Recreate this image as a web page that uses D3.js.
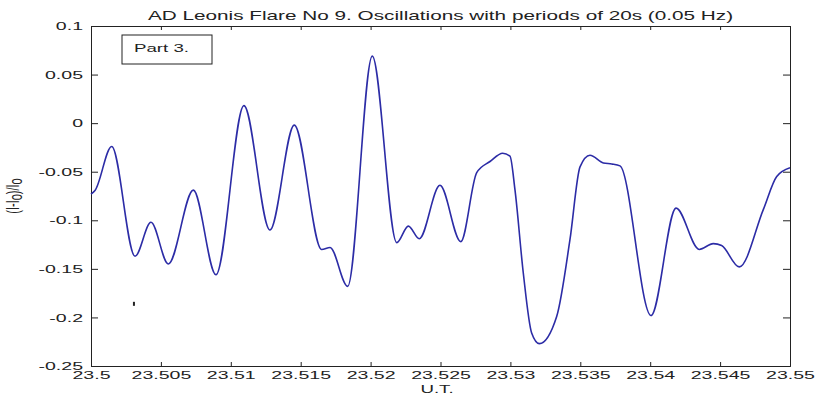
<!DOCTYPE html>
<html lang="en">
<head>
    <meta charset="utf-8">
    <title>AD Leonis Flare No 9</title>
    <script src="https://cdn.jsdelivr.net/npm/d3@7"></script>
    <style type="text/css">
        body { margin: 0; background: #fff; }
        svg text { font-family: "Liberation Sans", Arial, sans-serif; fill: #222; }
    </style>
</head>
<body>
<script type="text/javascript">

    // time (U.T. hours) and relative intensity
    var times = [23.5, 23.5003, 23.50148, 23.50315, 23.50429, 23.50553, 23.50732, 23.50894, 23.51094,
        23.5128, 23.51454, 23.5165, 23.5171, 23.51836, 23.52012, 23.52187, 23.5227,
        23.52348, 23.52496, 23.52645, 23.52759, 23.52854, 23.52945, 23.52997, 23.53033,
        23.53092, 23.53152, 23.53207, 23.53331, 23.53426, 23.53498, 23.53569, 23.53665,
        23.53725, 23.53784, 23.54006, 23.54185, 23.54351, 23.54451, 23.54511, 23.54637,
        23.54809, 23.54905, 23.55];
    var values = [-0.073, -0.069, -0.024, -0.137, -0.102, -0.145, -0.069, -0.156, 0.018,
        -0.110, -0.002, -0.130, -0.128, -0.168, 0.069, -0.123, -0.106,
        -0.119, -0.064, -0.122, -0.051, -0.0395, -0.031, -0.034, -0.069,
        -0.154, -0.216, -0.227, -0.199, -0.120, -0.045, -0.033, -0.041,
        -0.042, -0.044, -0.198, -0.0875, -0.130, -0.124, -0.126, -0.148,
        -0.089, -0.055, -0.046];

    var xTicks = [23.5, 23.505, 23.51, 23.515, 23.52, 23.525, 23.53, 23.535, 23.54, 23.545, 23.55];
    var yTicks = [0.1, 0.05, 0, -0.05, -0.1, -0.15, -0.2, -0.25];

    var width = 819, height = 399;
    var plotLeft = 91, plotRight = 790, plotTop = 26, plotBottom = 366;
    var sx = 1.7; // the picture is squeezed vertically, so text looks wide

    var svg = d3.select("body")
        .append("svg")
        .attr("width", width)
        .attr("height", height);

    var x = d3.scaleLinear().domain([23.5, 23.55]).range([plotLeft, plotRight]);
    var y = d3.scaleLinear().domain([-0.25, 0.1]).range([plotBottom, plotTop]);

    function fmt(d) { return String(+d.toFixed(3)); }

    // axes: ticks point inwards on all four sides
    var gBottom = svg.append("g").attr("transform", "translate(0," + plotBottom + ")")
        .call(d3.axisBottom(x).tickValues(xTicks).tickSize(-4).tickPadding(5).tickFormat(fmt));
    var gTop = svg.append("g").attr("transform", "translate(0," + plotTop + ")")
        .call(d3.axisTop(x).tickValues(xTicks).tickSize(-4).tickFormat(""));
    var gLeft = svg.append("g").attr("transform", "translate(" + plotLeft + ",0)")
        .call(d3.axisLeft(y).tickValues(yTicks).tickSize(-7).tickPadding(8).tickFormat(fmt));
    var gRight = svg.append("g").attr("transform", "translate(" + plotRight + ",0)")
        .call(d3.axisRight(y).tickValues(yTicks).tickSize(-7).tickFormat(""));

    [gBottom, gTop, gLeft, gRight].forEach(function (g) {
        g.select(".domain").attr("stroke", "#222");
        g.selectAll(".tick line").attr("stroke", "#222");
        g.selectAll(".tick text")
            .attr("font-family", null)
            .style("font-size", "11.5px")
            .attr("fill", "#222");
    });
    gBottom.selectAll(".tick text").attr("transform", "scale(" + sx + ",1)");
    gLeft.selectAll(".tick text")
        .attr("x", -8 / sx)
        .attr("transform", "scale(" + sx + ",1)");

    // title
    svg.append("text")
        .attr("transform", "translate(" + (plotLeft + plotRight) / 2 + ",20) scale(" + sx + ",1)")
        .style("text-anchor", "middle")
        .style("font-size", "12.2px")
        .text("AD Leonis Flare No 9. Oscillations with periods of 20s (0.05 Hz)");

    // x label
    svg.append("text")
        .attr("transform", "translate(437,393) scale(" + sx + ",1)")
        .style("text-anchor", "middle")
        .style("font-size", "11px")
        .text("U.T.");

    // y label with subscripts
    var yl = svg.append("text")
        .attr("transform", "translate(19," + (plotTop + plotBottom) / 2 + ") scale(" + sx + ",1) rotate(-90)")
        .style("text-anchor", "middle")
        .style("font-size", "11px");
    yl.append("tspan").text("(I-I");
    yl.append("tspan").attr("dy", 2).text("o");
    yl.append("tspan").attr("dy", -2).text(")/I");
    yl.append("tspan").attr("dy", 2).text("o");

    // "Part 3." box
    svg.append("rect")
        .attr("x", 122).attr("y", 35)
        .attr("width", 90).attr("height", 29)
        .attr("fill", "#fff")
        .attr("stroke", "#222");
    svg.append("text")
        .attr("transform", "translate(134,52) scale(" + sx + ",1)")
        .style("font-size", "11px")
        .text("Part 3.");

    // small stray mark on the figure
    svg.append("rect")
        .attr("x", x(23.503)).attr("y", y(-0.186) - 2)
        .attr("width", 2).attr("height", 4)
        .attr("fill", "#222");

    var data = times.map(function (t, i) { return {t: t, v: values[i]}; });

    var line = d3.line()
        .x(function (d) { return x(d.t); })
        .y(function (d) { return y(d.v); })
        .curve(d3.curveMonotoneX);

    svg.append("path")
        .datum(data)
        .attr("d", line)
        .attr("fill", "none")
        .attr("stroke", "#2c2ca6")
        .attr("stroke-width", 1.6);

</script>
</body>
</html>
